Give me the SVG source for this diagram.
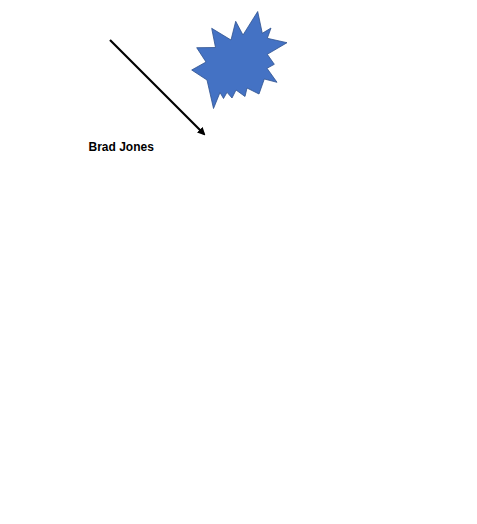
<svg xmlns="http://www.w3.org/2000/svg" width="477" height="524" viewBox="0 0 477 524">
  <defs>
    <style>
      .burst { fill: #4472C4; stroke: #2F528F; stroke-width: 0.8; stroke-linejoin: miter; }
      .conn { stroke: #000000; stroke-width: 2.2; fill: none; }
      .label { font-family: "Liberation Sans", Arial, sans-serif; font-size: 12px; font-weight: bold; fill: #000000; }
    </style>
    <marker id="arrow" markerWidth="8" markerHeight="8" refX="6" refY="4" orient="auto" markerUnits="userSpaceOnUse">
      <path d="M0,0 L8,4 L0,8 Z" fill="#000000"/>
    </marker>
  </defs>
  <rect width="477" height="524" fill="#ffffff"/>
  <g id="connectors">
    <line class="conn" x1="110" y1="40" x2="204" y2="134" marker-end="url(#arrow)"/>
  </g>
  <g id="starburst">
    <polygon class="burst" points="257.7,11.5 262.3,33.3 271,28 267.3,38.3 287,42.7 267.3,54.3 274.3,64.3 267,68.3 277,82.3 264.3,79 259,94 247,88 245,96.5 236,90 232,98 227,92.3 223.5,98.5 220,92.5 213.5,108.5 207,80 191.7,70 206,62 196.7,47.7 215.5,47.5 211.7,28.3 231,40 235.7,21.3 243,35"/>
  </g>
  <g id="label-brad-jones">
    <text class="label" x="88.5" y="151">Brad Jones</text>
  </g>
</svg>
